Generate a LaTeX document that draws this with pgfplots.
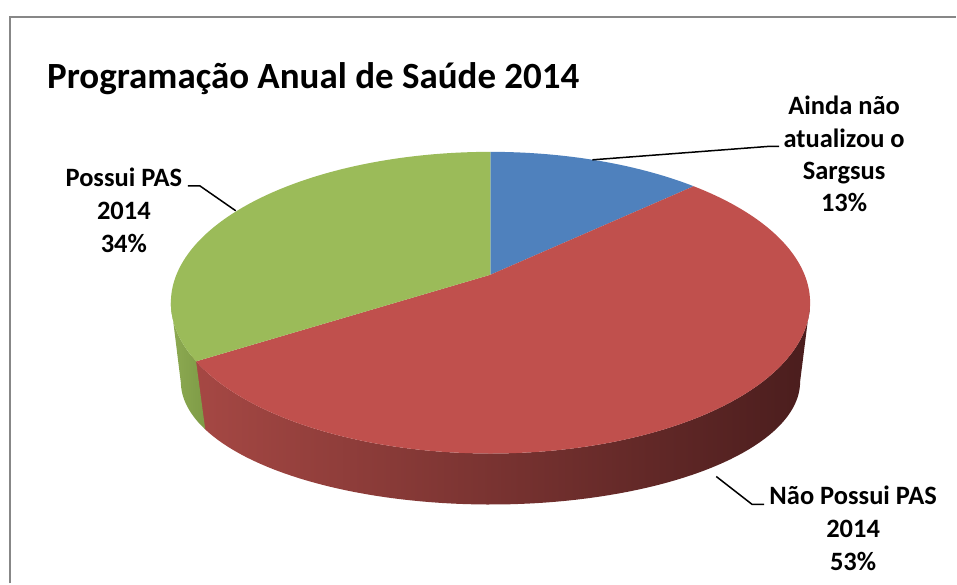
\documentclass[border=0pt]{standalone}
\usepackage{pgfplots}
\pgfplotsset{compat=1.18}
\usepackage{fontspec}
\setmainfont{Carlito}
\definecolor{pBlue}{HTML}{4F81BD}
\definecolor{pRed}{HTML}{C0504D}
\definecolor{pGreen}{HTML}{9BBB59}
\definecolor{sRedL}{HTML}{A64844}
\definecolor{sRedM}{HTML}{6B2B2A}
\definecolor{sRedD}{HTML}{4A1D1D}
\definecolor{sGreenL}{HTML}{8DAA52}
\definecolor{sGreenD}{HTML}{7E9B46}
\definecolor{frame}{HTML}{878787}
% data (percent)
\def\pA{13} % Ainda nao atualizou o Sargsus
\def\pB{53} % Nao Possui PAS 2014
\def\pC{34} % Possui PAS 2014
\begin{document}
\begin{tikzpicture}[declare function={
  wt(\t)=1+0.1854*sin(\t);
  TX(\t)=491+314.4*cos(\t)/wt(\t);
  TY(\t)=275-145.8*sin(\t)/wt(\t);
  BX(\t)=491+304.6*cos(\t)/wt(\t);
  BY(\t)=359.2-118.8*sin(\t)/wt(\t);
  th(\s,\a,\b)=ifthenelse(\s<=1,\a+\s*(\b-\a),\b+(\s-1)*(\a-\b));
  SX(\s,\a,\b)=ifthenelse(\s<=1,TX(th(\s,\a,\b)),BX(th(\s,\a,\b)));
  SY(\s,\a,\b)=ifthenelse(\s<=1,TY(th(\s,\a,\b)),BY(th(\s,\a,\b)));
}]
\pgfmathsetmacro{\tA}{90}
\pgfmathsetmacro{\tB}{\tA-3.6*\pA}
\pgfmathsetmacro{\tC}{\tB-3.6*\pB}
\pgfmathsetmacro{\tD}{\tC-3.6*\pC}
\pgfmathsetmacro{\tCx}{\tC-2}
\pgfmathsetmacro{\sR}{-asin(0.1854)}
\pgfmathsetmacro{\sL}{-180+asin(0.1854)}
\begin{axis}[width=957pt,height=584pt,scale only axis,hide axis,
  xmin=0,xmax=957,ymin=0,ymax=584,y dir=reverse,clip=false]
\path (axis cs:0,0) rectangle (axis cs:957,584);
\draw[frame,line width=2pt] (axis cs:10,584) -- (axis cs:10,17) -- (axis cs:957,17);
% side walls
\addplot[draw=none,left color=sRedL,middle color=sRedM,right color=sRedD,
  domain=0:2,samples=161,variable=\s]
  ({SX(\s,\sR,\tCx)},{SY(\s,\sR,\tCx)}) -- cycle;
\addplot[draw=none,left color=sGreenL,right color=sGreenD,
  domain=0:2,samples=81,variable=\s]
  ({SX(\s,\tC,\sL)},{SY(\s,\tC,\sL)}) -- cycle;
% top face
\addplot[draw=none,fill=pBlue,domain=\tB:\tA,samples=60]
  ({TX(x)},{TY(x)}) -- (axis cs:491,275) -- cycle;
\addplot[draw=none,fill=pRed,domain=\tC:\tB,samples=160]
  ({TX(x)},{TY(x)}) -- (axis cs:491,275) -- cycle;
\addplot[draw=none,fill=pGreen,domain=\tD:\tC,samples=120]
  ({TX(x)},{TY(x)}) -- (axis cs:491,275) -- cycle;
% leader lines
\draw[black,line width=1.5pt] (axis cs:593,160) -- (axis cs:770,146.5) -- (axis cs:780,146.5);
\draw[black,line width=1.5pt] (axis cs:188,186) -- (axis cs:200,186) -- (axis cs:236,211);
\draw[black,line width=1.5pt] (axis cs:717,477) -- (axis cs:753,505) -- (axis cs:765,505);
% title
\node[anchor=base west,inner sep=0pt,font=\fontsize{37}{44}\selectfont\bfseries]
  at (axis cs:47,89) {Programação Anual de Saúde 2014};
% labels
\begin{scope}[every node/.style={anchor=base,inner sep=0pt,font=\fontsize{26.5}{32}\selectfont\bfseries}]
\node at (axis cs:845,115) {Ainda não};
\node at (axis cs:845,147.5) {atualizou o};
\node at (axis cs:845,180) {Sargsus};
\node at (axis cs:845,212) {13\%};
\node at (axis cs:124,187) {Possui PAS};
\node at (axis cs:124,220) {2014};
\node at (axis cs:124,253) {34\%};
\node at (axis cs:854,505) {Não Possui PAS};
\node at (axis cs:854,538) {2014};
\node at (axis cs:854,571) {53\%};
\end{scope}
\end{axis}
\end{tikzpicture}
\end{document}
